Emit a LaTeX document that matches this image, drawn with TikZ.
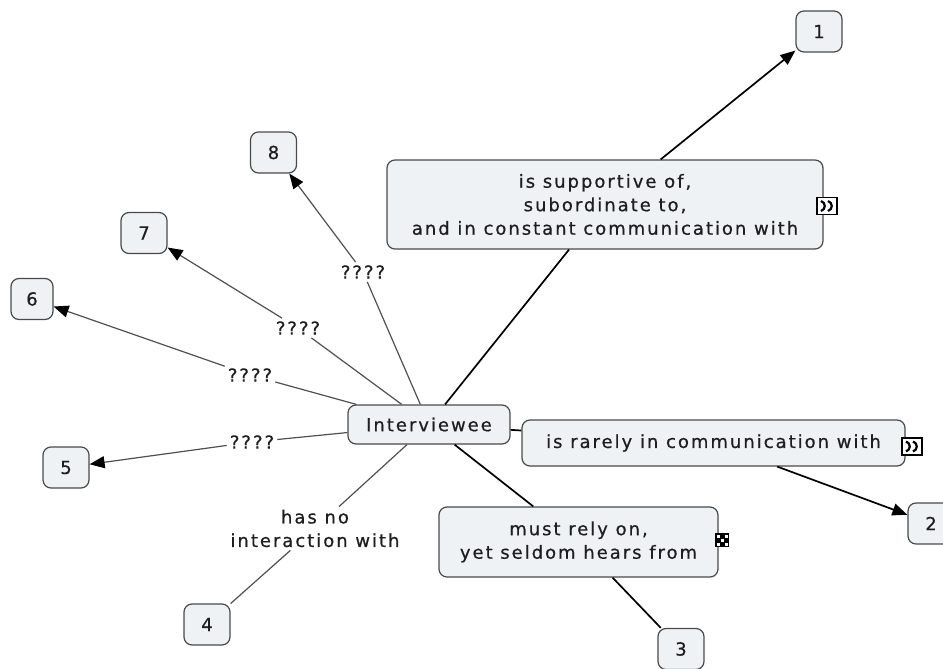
\documentclass[tikz,border=0pt]{standalone}
\usepackage{fontspec}
\setmainfont{DejaVu Sans}[LetterSpace=11, FakeBold=0.6]
\usetikzlibrary{arrows.meta}
\definecolor{boxfill}{HTML}{EEF2F5}
\definecolor{boxline}{HTML}{4A4A4A}
\definecolor{thinline}{HTML}{505050}
\definecolor{txt}{HTML}{1E1E1E}
\begin{document}
\begin{tikzpicture}[x=1pt,y=-1pt,
  concept/.style={draw=boxline, line width=1.2pt, fill=boxfill, rounded corners=8pt,
    font=\fontsize{18}{23.5}\selectfont, text=txt, align=center, inner sep=0pt},
  numbox/.style={concept, minimum width=46pt, minimum height=41pt},
  lbl/.style={font=\fontsize{18}{23.5}\selectfont, text=txt, inner sep=3pt, align=center},
  mainline/.style={line width=1.7pt, black},
  thinconn/.style={line width=1.2pt, thinline},
  tip/.style={-{Triangle[length=15pt,width=12pt,color=black]}},
  iconbox/.style={draw=black, fill=white, line width=1.3pt, minimum width=20pt, minimum height=17pt, inner sep=0pt},
  glyph/.style={line width=2.2pt, black}
]
\clip (0,0) rectangle (943,669);
\fill[white] (0,0) rectangle (943,669);

% concepts and linking phrases
\node[concept, minimum width=162pt, minimum height=39pt] (I) at (429,424.5) {Interviewee};
\node[concept, minimum width=436pt, minimum height=89pt] (S) at (605,204.5) {is supportive of,\\subordinate to,\\and in constant communication with};
\node[concept, minimum width=383pt, minimum height=46pt] (R) at (713.5,443) {is rarely in communication with};
\node[concept, minimum width=279pt, minimum height=70pt] (M) at (578.5,542) {must rely on,\\yet seldom hears from};

\node[numbox] (n1) at (819,31.5) {1};
\node[numbox] (n2) at (931,523.5) {2};
\node[numbox] (n3) at (681,649) {3};
\node[numbox] (n4) at (207,624.5) {4};
\node[numbox] (n5) at (66,467.5) {5};
\node[numbox, minimum width=42pt] (n6) at (32,299) {6};
\node[numbox] (n7) at (144,233) {7};
\node[numbox] (n8) at (273.5,152.5) {8};

\node[lbl] (q8) at (363,272) {????};
\node[lbl] (q7) at (298,328) {????};
\node[lbl] (q6) at (250,375) {????};
\node[lbl] (q5) at (252,442) {????};
\node[lbl] (h4) at (315,528.5) {has no\\interaction with};

% icons
\node[iconbox] (iS) at (827,206) {};
\draw[glyph] (821,201) .. controls (826,202.5) and (826,209.5) .. (821,211);
\draw[glyph] (828,201) .. controls (833,202.5) and (833,209.5) .. (828,211);
\node[iconbox] (iR) at (912,446.5) {};
\draw[glyph] (906,441.5) .. controls (911,443) and (911,450) .. (906,451.5);
\draw[glyph] (913,441.5) .. controls (918,443) and (918,450) .. (913,451.5);
\node[fill=black, minimum width=14pt, minimum height=14pt, inner sep=0pt] (iM) at (722,540) {};
\fill[white] (716.5,534.5) rectangle (719.5,537.5);
\fill[white] (724.5,534.5) rectangle (727.5,537.5);
\fill[white] (720.5,538.5) rectangle (723.5,541.5);
\fill[white] (716.5,542.5) rectangle (719.5,545.5);
\fill[white] (724.5,542.5) rectangle (727.5,545.5);

% connectors
\draw[mainline] (I) -- (S);
\draw[mainline,tip] (S) -- (n1);
\draw[mainline] (I) -- (R);
\draw[mainline,tip] (R) -- (n2);
\draw[mainline] (I) -- (M);
\draw[mainline] (M) -- (n3);

\draw[thinconn] (I) -- (q8);
\draw[thinconn,tip] (q8) -- (n8);
\draw[thinconn] (I) -- (q7);
\draw[thinconn,tip] (q7) -- (n7);
\draw[thinconn] (I) -- (q6);
\draw[thinconn,tip] (q6) -- (n6);
\draw[thinconn] (I) -- (q5);
\draw[thinconn,tip] (q5) -- (n5);
\draw[thinconn] (I) -- (h4);
\draw[thinconn] (h4) -- (n4);
\end{tikzpicture}
\end{document}
